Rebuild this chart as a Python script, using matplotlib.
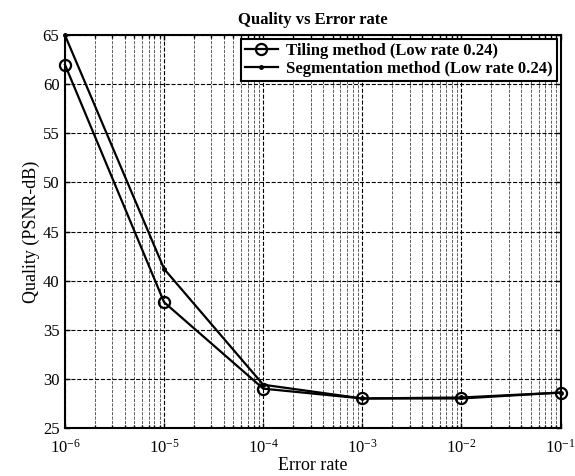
import matplotlib
matplotlib.use('Agg')
import matplotlib.pyplot as plt

plt.rcParams['font.family'] = ['Liberation Serif', 'DejaVu Serif']
plt.rcParams['mathtext.fontset'] = 'stix'

error_rate = [1e-6, 1e-5, 1e-4, 1e-3, 1e-2, 1e-1]
tiling = [62.0, 37.8, 29.0, 28.0, 28.0, 28.6]
segmentation = [65.0, 41.2, 29.4, 28.0, 28.1, 28.6]

fig = plt.figure(figsize=(5.75, 4.76), dpi=100)
ax = fig.add_axes([0.113, 0.101, 0.862, 0.825])

ax.plot(error_rate, tiling, color='black', lw=1.6, marker='o', ms=8,
        mfc='none', mew=1.6, label='Tiling method (Low rate 0.24)', clip_on=False)
ax.plot(error_rate, segmentation, color='black', lw=1.6, marker='.', ms=5,
        label='Segmentation method (Low rate 0.24)', clip_on=False)

ax.set_xscale('log')
ax.set_xlim(1e-6, 1e-1)
ax.set_ylim(25, 65)
ax.set_yticks(range(25, 66, 5))
ax.grid(True, which='major', color='black', ls='--', lw=0.8)
ax.grid(True, which='minor', axis='x', color='#444444', ls='--', lw=0.6)
ax.tick_params(which='both', direction='in', labelsize=12, width=1,
               top=True, right=True)
ax.tick_params(axis='x', pad=8)
ax.tick_params(axis='y', pad=4)
for s in ax.spines.values():
    s.set_linewidth(1.5)

ax.set_title('Quality vs Error rate', fontsize=12, fontweight='bold', pad=8)
ax.set_xlabel('Error rate', fontsize=13, labelpad=0)
ax.set_ylabel('Quality (PSNR-dB)', fontsize=13, labelpad=2)

leg = ax.legend(loc='upper right', prop={'weight': 'bold', 'size': 12},
                fancybox=False, edgecolor='black', framealpha=1,
                handlelength=2.0, borderpad=0.25, labelspacing=0.15,
                borderaxespad=0.2, handletextpad=0.5)
leg.get_frame().set_linewidth(1.5)

fig.savefig('out.png', dpi=100)
